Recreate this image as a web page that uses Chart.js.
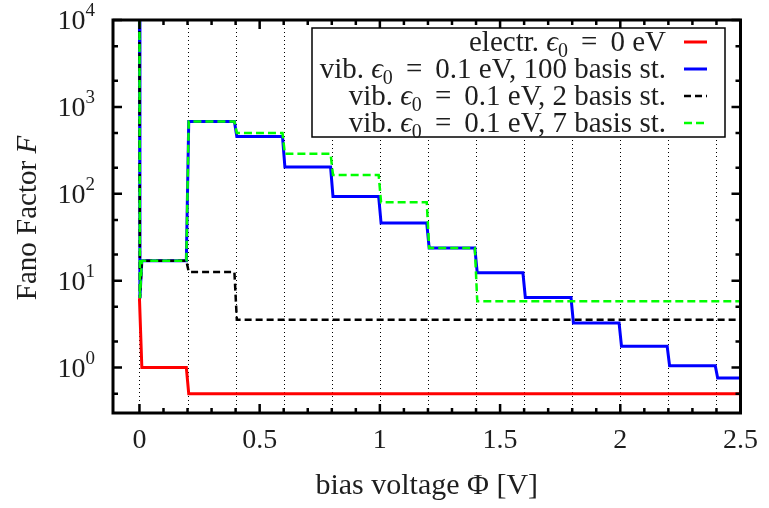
<!DOCTYPE html>
<html lang="en">
<head>
  <meta charset="utf-8">
  <title>Fano factor vs bias voltage</title>
  <script src="https://cdn.jsdelivr.net/npm/chart.js"></script>
  <style>
    html, body { margin: 0; padding: 0; background: #fff; }
    .chart-container { position: relative; width: 769px; height: 508px; }
  </style>
</head>
<body>
  <div class="chart-container">
    <canvas id="fanoChart" width="769" height="508"></canvas>
  </div>

  <script>
    // plateau edges in bias voltage [V]
    const biasEdges = [0, 0.2, 0.4, 0.6, 0.8, 1.0, 1.2, 1.4, 1.6, 1.8, 2.0, 2.2, 2.4, 2.5];

    // Fano factor on each plateau between two neighbouring edges
    const electrLevels = [1.0, 0.5, 0.5, 0.5, 0.5, 0.5, 0.5, 0.5, 0.5, 0.5, 0.5, 0.5, 0.5];
    const vib100Levels = [17, 680, 455, 203, 93, 46, 23.8, 12.3, 6.4, 3.26, 1.76, 1.05, 0.76];
    const vib2Levels   = [17, 12.6, 3.55, 3.55, 3.55, 3.55, 3.55, 3.55, 3.55, 3.55, 3.55, 3.55, 3.55];
    const vib7Levels   = [17, 680, 500, 288, 165, 80, 23.8, 5.8, 5.8, 5.8, 5.8, 5.8, 5.8];

    // values right at zero bias, before the first plateau
    const electrStartBias = [0];
    const electrStartF    = [6.3];
    const vibStartBias    = [0, 0.002];
    const vibStartF       = [10000, 6.3];

    const seriesLabels = [
      'electr. ϵ0 = 0 eV',
      'vib. ϵ0 = 0.1 eV, 100 basis st.',
      'vib. ϵ0 = 0.1 eV, 2 basis st.',
      'vib. ϵ0 = 0.1 eV, 7 basis st.'
    ];

    // axis ticks
    const xMajorTicks = [0, 0.5, 1, 1.5, 2, 2.5];
    const xMinorTicks = [0.1, 0.2, 0.3, 0.4, 0.6, 0.7, 0.8, 0.9, 1.1, 1.2, 1.3, 1.4, 1.6, 1.7, 1.8, 1.9, 2.1, 2.2, 2.3, 2.4];
    const xGridLines  = [0, 0.2, 0.4, 0.6, 0.8, 1.0, 1.2, 1.4, 1.6, 1.8, 2.0, 2.2, 2.4];
    const yMajorTicks = [1, 10, 100, 1000, 10000];
    const yMinorTicks = [0.5, 2, 5, 20, 50, 200, 500, 2000, 5000];

    const SERIF = "'Liberation Serif', 'DejaVu Serif', serif";
    const TEXT_COLOR = '#1e1e1e';

    function stepPoints(startBias, startF, levels) {
      const pts = startBias.map((b, i) => ({ x: b, y: startF[i] }));
      pts.push({ x: biasEdges[0] + 0.01, y: levels[0] });
      for (let i = 1; i < levels.length; i++) {
        const e = biasEdges[i];
        pts.push({ x: e - 0.005, y: levels[i - 1] });
        pts.push({ x: e + 0.005, y: levels[i] });
      }
      pts.push({ x: biasEdges[biasEdges.length - 1], y: levels[levels.length - 1] });
      return pts;
    }

    // legend text: "vib. " + ϵ + subscript 0 + " = 0.1 eV ..."
    function labelParts(label) {
      const [before, after] = label.split('ϵ0');
      const rest = after.replace(' = ', '\u2009 = \u2009');
      return [
        { t: before, font: '29px ' + SERIF, dy: 0 },
        { t: 'ϵ', font: 'italic 29px ' + SERIF, dy: 0 },
        { t: '0', font: '20px ' + SERIF, dy: 6 },
        { t: rest, font: '29px ' + SERIF, dy: 0 }
      ];
    }

    function drawParts(ctx, parts, xRight, baseline) {
      let total = 0;
      parts.forEach(p => { ctx.font = p.font; total += ctx.measureText(p.t).width; });
      let x = xRight - total;
      ctx.textAlign = 'left';
      ctx.textBaseline = 'alphabetic';
      parts.forEach(p => {
        ctx.font = p.font;
        ctx.fillText(p.t, x, baseline + p.dy);
        x += ctx.measureText(p.t).width;
      });
    }

    const frame = {
      id: 'frame',
      beforeDatasetsDraw(chart) {
        const { ctx, chartArea: a, scales: { x } } = chart;
        ctx.save();
        ctx.strokeStyle = '#000';
        ctx.lineWidth = 1;
        ctx.setLineDash([1, 3]);
        xGridLines.forEach(v => {
          const px = Math.round(x.getPixelForValue(v)) + 0.5;
          ctx.beginPath();
          ctx.moveTo(px, a.top);
          ctx.lineTo(px, a.bottom);
          ctx.stroke();
        });
        ctx.restore();
      },
      afterDatasetsDraw(chart) {
        const { ctx, chartArea: a, scales: { x, y } } = chart;
        ctx.save();

        // ticks pointing inwards, mirrored on top and right
        ctx.strokeStyle = '#000';
        ctx.lineWidth = 2.5;
        const tickX = (vals, len) => vals.forEach(v => {
          const px = x.getPixelForValue(v);
          ctx.beginPath();
          ctx.moveTo(px, a.bottom); ctx.lineTo(px, a.bottom - len);
          ctx.moveTo(px, a.top); ctx.lineTo(px, a.top + len);
          ctx.stroke();
        });
        const tickY = (vals, len) => vals.forEach(v => {
          const py = y.getPixelForValue(v);
          ctx.beginPath();
          ctx.moveTo(a.left, py); ctx.lineTo(a.left + len, py);
          ctx.moveTo(a.right, py); ctx.lineTo(a.right - len, py);
          ctx.stroke();
        });
        tickX(xMajorTicks, 9);
        tickX(xMinorTicks, 5);
        tickY(yMajorTicks, 9);
        tickY(yMinorTicks, 5);

        ctx.lineWidth = 3;
        ctx.strokeRect(a.left, a.top, a.right - a.left, a.bottom - a.top);

        // y tick labels as powers of ten
        ctx.fillStyle = TEXT_COLOR;
        yMajorTicks.forEach(v => {
          const py = y.getPixelForValue(v);
          const exp = String(Math.round(Math.log10(v)));
          ctx.font = '19px ' + SERIF;
          const we = ctx.measureText(exp).width;
          ctx.textBaseline = 'alphabetic';
          ctx.textAlign = 'left';
          ctx.fillText(exp, 95 - we, py - 4);
          ctx.font = '28px ' + SERIF;
          ctx.textAlign = 'right';
          ctx.fillText('10', 95 - we, py + 9);
        });

        // axis titles
        ctx.font = '30px ' + SERIF;
        ctx.textAlign = 'center';
        ctx.textBaseline = 'middle';
        ctx.fillText('bias voltage Φ [V]', (a.left + a.right) / 2, 486);

        ctx.save();
        ctx.translate(28, 218);
        ctx.rotate(-Math.PI / 2);
        ctx.font = '29px ' + SERIF;
        const w1 = ctx.measureText('Fano Factor ').width;
        ctx.font = 'italic 29px ' + SERIF;
        const w2 = ctx.measureText('F').width;
        ctx.textAlign = 'left';
        ctx.textBaseline = 'middle';
        ctx.font = '29px ' + SERIF;
        ctx.fillText('Fano Factor ', -(w1 + w2) / 2, 0);
        ctx.font = 'italic 29px ' + SERIF;
        ctx.fillText('F', -(w1 + w2) / 2 + w1, 0);
        ctx.restore();

        // legend box
        const bx = 312, by = 28, bw = 413, bh = 109;
        ctx.fillStyle = '#fff';
        ctx.fillRect(bx, by, bw, bh);
        ctx.strokeStyle = '#000';
        ctx.lineWidth = 1.5;
        ctx.strokeRect(bx, by, bw, bh);
        const rowY = [42, 69, 96, 123];
        chart.data.datasets.forEach((ds, i) => {
          const cy = rowY[i];
          ctx.fillStyle = TEXT_COLOR;
          drawParts(ctx, labelParts(ds.label), 666, cy + 9);
          ctx.strokeStyle = ds.borderColor;
          ctx.lineWidth = ds.borderWidth;
          ctx.setLineDash(ds.borderDash || []);
          ctx.beginPath();
          ctx.moveTo(684, cy);
          ctx.lineTo(707, cy);
          ctx.stroke();
          ctx.setLineDash([]);
        });

        ctx.restore();
      }
    };

    Chart.defaults.font.family = SERIF;
    Chart.defaults.color = TEXT_COLOR;

    new Chart(document.getElementById('fanoChart').getContext('2d'), {
      type: 'line',
      data: {
        datasets: [
          {
            label: seriesLabels[0],
            data: stepPoints(electrStartBias, electrStartF, electrLevels),
            borderColor: '#ff0000',
            borderWidth: 3,
            order: 4
          },
          {
            label: seriesLabels[1],
            data: stepPoints(vibStartBias, vibStartF, vib100Levels),
            borderColor: '#0000ff',
            borderWidth: 3,
            order: 3
          },
          {
            label: seriesLabels[2],
            data: stepPoints(vibStartBias, vibStartF, vib2Levels),
            borderColor: '#000000',
            borderWidth: 2.5,
            borderDash: [7, 4],
            order: 2
          },
          {
            label: seriesLabels[3],
            data: stepPoints(vibStartBias, vibStartF, vib7Levels),
            borderColor: '#00ff00',
            borderWidth: 2.5,
            borderDash: [8, 4],
            order: 1
          }
        ]
      },
      options: {
        responsive: false,
        animation: false,
        elements: { point: { radius: 0 }, line: { tension: 0 } },
        layout: { padding: { top: 20, right: 28, left: 0, bottom: 0 } },
        plugins: { legend: { display: false }, tooltip: { enabled: false } },
        scales: {
          x: {
            type: 'linear',
            min: -0.11,
            max: 2.5,
            afterBuildTicks: s => { s.ticks = xMajorTicks.map(v => ({ value: v })); },
            afterFit: s => { s.height = 95; },
            grid: { display: false, drawTicks: false },
            border: { display: false },
            ticks: {
              padding: 11,
              maxRotation: 0,
              font: { size: 28 },
              callback: v => String(v)
            }
          },
          y: {
            type: 'logarithmic',
            min: 0.3,
            max: 10000,
            afterBuildTicks: s => { s.ticks = yMajorTicks.map(v => ({ value: v })); },
            afterFit: s => { s.width = 113; },
            grid: { display: false, drawTicks: false },
            border: { display: false },
            ticks: { display: false }
          }
        }
      },
      plugins: [frame]
    });
  </script>
</body>
</html>
